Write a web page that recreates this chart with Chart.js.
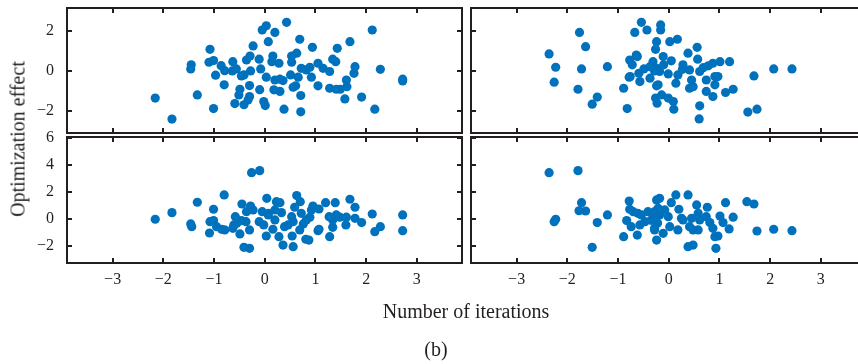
<!DOCTYPE html>
<html>
<head>
<meta charset="utf-8">
<script src="https://cdn.jsdelivr.net/npm/chart.js@4/dist/chart.umd.min.js"></script>
<style>
  html, body { margin:0; padding:0; background:#fff; }
  #wrap { position:relative; width:858px; height:364px; overflow:hidden; background:#fff; }
  canvas { position:absolute; left:0; top:0; }
  .txt { position:absolute; font-family:"Liberation Serif", serif; color:#231f20; white-space:nowrap; }
</style>
</head>
<body>
<div id="wrap">
  <canvas id="tl" width="880" height="364"></canvas>
  <canvas id="tr" width="880" height="364"></canvas>
  <canvas id="bl" width="880" height="364"></canvas>
  <canvas id="br" width="880" height="364"></canvas>
  <div class="txt" id="ylab" style="font-size:20px; left:18px; top:139px; transform:translate(-50%,-50%) rotate(-90deg);">Optimization effect</div>
  <div class="txt" id="xlab" style="font-size:20px; left:466px; top:311px; transform:translate(-50%,-50%);">Number of iterations</div>
  <div class="txt" id="cap" style="font-size:20px; left:436px; top:349px; transform:translate(-50%,-50%);">(b)</div>
</div>
<script>
// ---- tick values and labels ----
const xTickValues = [-3, -2, -1, 0, 1, 2, 3];
const xTickLabels = ['\u22123', '\u22122', '\u22121', '0', '1', '2', '3'];
const yTickValuesTop = [-2, 0, 2];
const yTickLabelsTop = ['\u22122', '0', '2'];
const yTickValuesBottom = [-2, 0, 2, 4, 6];
const yTickLabelsBottom = ['\u22122', '0', '2', '4', '6'];

// ---- data: [x, y] pairs ----
const topLeftPoints = [
  [-2.16,-1.35],[-1.83,-2.39],[-1.45,0.30],[-1.46,0.10],[-1.33,-1.19],[-1.08,1.07],[-1.10,0.43],[-1.01,0.51],
  [-0.97,-0.21],[-1.01,-1.87],[-0.86,0.26],[-0.79,0.01],[-0.80,-0.69],[-0.63,0.46],[-0.64,0.00],[-0.56,0.10],
  [-0.46,-0.25],[-0.41,-0.20],[-0.49,-0.91],[-0.51,-1.19],[-0.59,-1.62],[-0.41,-1.68],[-0.33,-1.44],[-0.30,-1.27],
  [-0.30,-0.73],[-0.36,0.54],[-0.29,0.74],[-0.23,1.24],[-0.28,0.00],[-0.11,0.58],[-0.08,0.10],[-0.10,-0.93],
  [-0.02,-1.52],[0.01,-1.72],[0.03,-0.31],[-0.05,2.03],[0.03,2.24],[0.07,1.45],[0.43,2.41],[0.20,1.91],
  [0.16,0.74],[0.14,0.46],[0.28,0.38],[0.20,-0.45],[0.30,-0.41],[0.36,-0.48],[0.18,-0.94],[0.30,-1.02],
  [0.38,-1.90],[0.53,0.74],[0.63,0.88],[0.53,0.43],[0.51,-0.20],[0.66,-0.31],[0.56,-0.81],[0.61,-0.74],
  [0.69,1.57],[0.71,-1.22],[0.71,-2.03],[0.72,0.13],[0.82,0.05],[0.89,0.18],[0.92,-0.31],[0.94,1.17],
  [1.05,0.38],[1.05,-0.74],[1.15,0.13],[1.28,-0.03],[1.28,-0.86],[1.41,-0.91],[1.49,-0.91],[1.62,-0.78],
  [1.61,-0.45],[1.34,0.58],[1.40,0.46],[1.43,1.12],[1.58,-1.39],[1.68,1.45],[1.78,0.21],[1.76,-0.12],
  [1.91,-1.30],[2.12,2.03],[2.28,0.08],[2.17,-1.90],[2.72,-0.41],[2.72,-0.50]
];
const topRightPoints = [
  [-2.36,0.84],[-2.23,0.18],[-2.26,-0.56],[-1.76,1.91],[-1.64,1.20],[-1.72,0.10],[-1.79,-0.91],[-1.41,-1.30],
  [-1.51,-1.65],[-1.21,0.21],[-0.89,-0.86],[-0.82,-1.87],[-0.77,0.54],[-0.72,0.30],[-0.64,0.79],[-0.62,0.71],
  [-0.78,-0.31],[-0.76,-0.28],[-0.59,-0.12],[-0.57,-0.53],[-0.54,2.41],[-0.67,1.91],[-0.43,2.03],[-0.49,0.10],
  [-0.37,0.21],[-0.31,0.46],[-0.28,0.00],[-0.37,-0.36],[-0.24,-0.74],[-0.26,-1.35],[-0.23,-1.60],[-0.24,1.45],
  [-0.26,1.07],[-0.16,2.28],[-0.16,2.03],[0.02,1.45],[0.17,1.57],[-0.11,0.71],[-0.10,0.30],[0.05,0.50],
  [-0.24,0.13],[-0.18,-0.03],[-0.21,-0.69],[-0.01,-0.15],[-0.14,-1.19],[-0.01,-1.35],[0.09,-1.52],[0.10,-1.90],
  [0.14,-0.61],[0.18,-0.20],[0.27,0.08],[0.28,0.30],[0.38,0.88],[0.56,1.17],[0.57,0.58],[0.41,0.05],
  [0.45,-0.45],[0.48,-0.78],[0.41,-0.86],[0.61,-0.03],[0.68,0.16],[0.78,0.25],[0.87,0.38],[1.01,0.46],
  [1.20,0.46],[0.74,-0.45],[0.91,-0.28],[0.97,-0.28],[0.91,-0.69],[0.74,-1.02],[0.87,-1.27],[0.61,-1.73],
  [0.60,-2.38],[1.12,-1.07],[1.27,-0.91],[1.68,-0.25],[1.56,-2.04],[1.74,-1.90],[2.07,0.10],[2.43,0.10]
];
const bottomLeftPoints = [
  [-2.16,-0.02],[-1.83,0.47],[-1.33,1.24],[-1.46,-0.37],[-1.44,-0.57],[-0.80,1.78],[-1.01,0.72],[-1.08,-0.20],
  [-1.01,-0.12],[-1.09,-1.04],[-0.95,-0.57],[-0.85,-0.76],[-0.79,-0.81],[-0.63,-0.69],[-0.61,-0.44],[-0.58,0.17],
  [-0.55,-0.32],[-0.49,-1.11],[-0.45,1.11],[-0.36,0.54],[-0.28,0.96],[-0.23,0.67],[-0.46,-0.12],[-0.37,-0.20],
  [-0.30,-0.81],[-0.41,-2.10],[-0.30,-2.17],[-0.26,3.43],[-0.10,3.58],[-0.11,-0.20],[-0.05,0.54],[-0.02,-0.44],
  [0.03,-1.26],[0.04,1.53],[0.07,0.42],[0.07,0.30],[0.20,0.67],[0.23,1.28],[0.30,1.21],[0.33,0.47],
  [0.16,-0.76],[0.28,-1.31],[0.36,-1.93],[0.20,-0.07],[0.39,-0.57],[0.46,-0.44],[0.53,0.17],[0.56,-0.20],
  [0.54,-1.26],[0.56,-2.05],[0.63,1.73],[0.70,1.28],[0.59,0.87],[0.72,0.42],[0.69,-0.81],[0.76,-0.37],
  [0.82,-0.07],[0.89,0.13],[0.81,-1.50],[0.87,-1.56],[0.95,0.96],[0.92,0.67],[1.07,0.74],[1.07,-0.76],
  [1.05,-0.87],[1.20,1.21],[1.39,1.21],[1.27,0.17],[1.34,-0.07],[1.34,-0.62],[1.41,0.30],[1.48,0.13],
  [1.61,0.13],[1.60,-0.44],[1.28,-1.31],[1.68,1.46],[1.78,0.87],[1.78,0.05],[1.91,-0.27],[2.12,0.37],
  [2.17,-0.94],[2.28,-0.57],[2.72,0.30],[2.72,-0.87]
];
const bottomRightPoints = [
  [-2.36,3.43],[-1.79,3.58],[-2.26,-0.20],[-2.23,-0.02],[-1.72,1.21],[-1.77,0.61],[-1.64,0.59],[-1.41,-0.27],
  [-1.21,0.30],[-1.51,-2.10],[-0.89,-1.31],[-0.62,-1.19],[-0.78,1.33],[-0.77,0.72],[-0.70,0.54],[-0.61,0.42],
  [-0.54,0.30],[-0.41,0.54],[-0.24,1.41],[-0.21,0.79],[-0.83,-0.12],[-0.74,-0.57],[-0.57,-0.44],[-0.47,-0.20],
  [-0.28,-0.81],[-0.24,-1.56],[-0.18,1.53],[-0.28,0.54],[-0.31,0.05],[-0.28,-0.69],[-0.11,-1.06],[-0.18,0.30],
  [-0.08,0.67],[-0.01,0.17],[0.05,1.21],[0.02,-0.57],[0.14,1.78],[0.20,0.72],[0.18,-0.81],[0.25,0.05],
  [0.28,-0.07],[0.38,1.78],[0.41,-0.57],[0.45,0.05],[0.48,-0.81],[0.55,1.04],[0.58,0.42],[0.61,-0.07],
  [0.58,-0.81],[0.38,-2.05],[0.48,-1.93],[0.76,0.87],[0.74,0.17],[0.81,-0.27],[0.87,-0.69],[0.91,-1.31],
  [0.97,-1.26],[0.93,-2.17],[1.01,0.22],[1.07,-0.27],[1.19,-0.74],[1.27,0.13],[1.12,1.21],[1.54,1.28],
  [1.68,1.11],[1.74,-0.89],[2.07,-0.76],[2.43,-0.87],[-0.30,0.20],[-0.22,-0.30],[-0.35,-0.10]
];

// ---- axis ranges ----
const xRange = [-3.9, 3.89];
const yRangeTop = [-3.08, 3.12];
const yRangeBottom = [-3.26, 6.07];

const INK = '#231f20';
const DOT = '#0072BD';

const framePlugin = {
  id: 'frame',
  afterDraw(chart) {
    const ctx = chart.ctx, a = chart.chartArea, xs = chart.scales.x, ys = chart.scales.y;
    ctx.save();
    ctx.strokeStyle = INK;
    ctx.lineWidth = 2;
    ctx.strokeRect(a.left, a.top, a.right - a.left, a.bottom - a.top);
    ctx.beginPath();
    const L = 5;
    xs.ticks.forEach(t => {
      const px = Math.round(xs.getPixelForValue(t.value));
      ctx.moveTo(px, a.top); ctx.lineTo(px, a.top + L);
      ctx.moveTo(px, a.bottom); ctx.lineTo(px, a.bottom - L);
    });
    ys.ticks.forEach(t => {
      const py = Math.round(ys.getPixelForValue(t.value));
      ctx.moveTo(a.left, py); ctx.lineTo(a.left + L, py);
      ctx.moveTo(a.right, py); ctx.lineTo(a.right - L, py);
    });
    ctx.stroke();
    ctx.restore();
  }
};

function zeroPad(s) { s.paddingTop = 0; s.paddingBottom = 0; s.paddingLeft = 0; s.paddingRight = 0; }

function makeChart(id, pts, yRange, yVals, yLabels, showX, showY, pad) {
  return new Chart(document.getElementById(id), {
    type: 'scatter',
    data: { datasets: [{
      data: pts.map(p => ({ x: p[0], y: p[1] })),
      backgroundColor: DOT, borderWidth: 0, pointRadius: 4.6, pointHoverRadius: 4.6
    }]},
    options: {
      responsive: false, animation: false, devicePixelRatio: 1,
      layout: { padding: pad },
      plugins: { legend: { display: false }, tooltip: { enabled: false } },
      scales: {
        x: {
          type: 'linear', position: 'bottom', min: xRange[0], max: xRange[1],
          afterBuildTicks: s => { s.ticks = xTickValues.map(v => ({ value: v })); },
          afterFit: s => { s.height = showX ? 30 : 0; zeroPad(s); },
          grid: { display: false, drawTicks: false }, border: { display: false },
          ticks: { display: showX, padding: 7, color: INK, maxRotation: 0, autoSkip: false,
                   font: { family: 'Liberation Serif', size: 16 },
                   callback: v => xTickLabels[xTickValues.indexOf(v)] }
        },
        y: {
          type: 'linear', position: 'left', min: yRange[0], max: yRange[1],
          afterBuildTicks: s => { s.ticks = yVals.map(v => ({ value: v })); },
          afterFit: s => { s.width = showY ? 67 : 0; zeroPad(s); },
          grid: { display: false, drawTicks: false }, border: { display: false },
          ticks: { display: showY, padding: 13, color: INK, autoSkip: false,
                   font: { family: 'Liberation Serif', size: 16 },
                   callback: v => yLabels[yVals.indexOf(v)] }
        }
      }
    },
    plugins: [framePlugin]
  });
}

makeChart('tl', topLeftPoints, yRangeTop, yTickValuesTop, yTickLabelsTop, false, true,
  { left: 0, top: 8, right: 880 - 462, bottom: 364 - 133 });
makeChart('tr', topRightPoints, yRangeTop, yTickValuesTop, yTickLabelsTop, false, false,
  { left: 471, top: 8, right: 880 - 866, bottom: 364 - 133 });
makeChart('bl', bottomLeftPoints, yRangeBottom, yTickValuesBottom, yTickLabelsBottom, true, true,
  { left: 0, top: 137, right: 880 - 462, bottom: 364 - 263 - 30 });
makeChart('br', bottomRightPoints, yRangeBottom, yTickValuesBottom, yTickLabelsBottom, true, false,
  { left: 471, top: 137, right: 880 - 866, bottom: 364 - 263 - 30 });
</script>
</body>
</html>
